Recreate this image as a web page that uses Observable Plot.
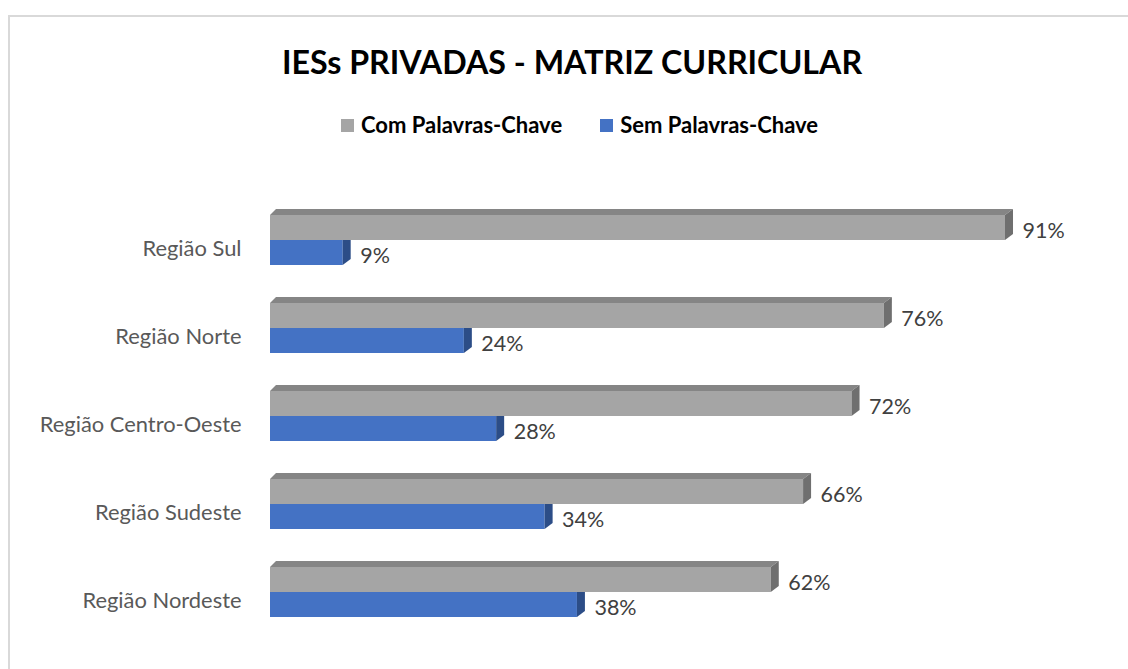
<!DOCTYPE html>
<html>
<head>
<meta charset="utf-8">
<script src="https://cdn.jsdelivr.net/npm/d3@7"></script>
<script src="https://cdn.jsdelivr.net/npm/@observablehq/plot@0.6"></script>
<style>
  html, body { margin: 0; padding: 0; background: #fff; }
  body { width: 1128px; height: 669px; overflow: hidden; position: relative; font-family: Lato, "Noto Sans", sans-serif; }
  #frame { position: absolute; left: 8px; top: 15px; width: 1140px; height: 680px; border: 2px solid #d9d9d9; box-sizing: border-box; }
  #title { position: absolute; left: 8px; width: 1128px; top: 40px; text-align: center; font-weight: 700; font-size: 32.2px; color: #000; line-height: 44px; }
  #legend { position: absolute; left: 341px; top: 112px; display: flex; align-items: center; font-weight: 700; font-size: 22px; color: #000; line-height: 26px; }
  #legend .sw { width: 13px; height: 13px; display: inline-block; margin-right: 7px; }
  #legend .item { display: flex; align-items: center; margin-right: 38px; }
  #chart { position: absolute; left: 0; top: 150px; }
</style>
</head>
<body>
<div id="frame"></div>
<div id="title">IESs PRIVADAS - MATRIZ CURRICULAR</div>
<div id="legend"></div>
<div id="chart"></div>
<script>
const regions = ["Região Sul", "Região Norte", "Região Centro-Oeste", "Região Sudeste", "Região Nordeste"];
const comValues = [91, 76, 72, 66, 62];
const semValues = [9, 24, 28, 34, 38];
const seriesNames = ["Com Palavras-Chave", "Sem Palavras-Chave"];
const seriesColors = ["#a5a5a5", "#4472c4"];

const com = regions.map((r, i) => ({region: r, value: comValues[i]}));
const sem = regions.map((r, i) => ({region: r, value: semValues[i]}));

// legend
const legend = document.getElementById("legend");
seriesNames.forEach((n, i) => {
  const it = document.createElement("div");
  it.className = "item";
  it.innerHTML = `<span class="sw" style="background:${seriesColors[i]}"></span><span>${n}</span>`;
  legend.appendChild(it);
});

const DX = 8, DY = 6;

function grayFaces(index, s) {
  const g = d3.create("svg:g");
  const bw = s.y.bandwidth();
  com.forEach(d => {
    const top = s.y(d.region), mid = top + bw / 2;
    const x0 = s.x(0), xv = s.x(d.value);
    g.append("path")
      .attr("d", `M${x0},${top}L${x0 + 6},${top - DY}L${xv + DX},${top - DY}L${xv},${top}Z`)
      .attr("fill", "#858585");
    g.append("path")
      .attr("d", `M${xv},${top}L${xv + DX},${top - DY}L${xv + DX},${mid - DY}L${xv},${mid}Z`)
      .attr("fill", "#6f6f6f");
  });
  return g.node();
}

function blueFaces(index, s) {
  const g = d3.create("svg:g");
  const bw = s.y.bandwidth();
  sem.forEach(d => {
    const top = s.y(d.region), mid = top + bw / 2, bot = top + bw;
    const xv = s.x(d.value);
    g.append("path")
      .attr("d", `M${xv},${mid}L${xv + DX},${mid - DY}L${xv + DX},${bot - DY}L${xv},${bot}Z`)
      .attr("fill", "#2c4d87");
  });
  return g.node();
}

const chart = Plot.plot({
  width: 1128,
  height: 519,
  marginLeft: 270,
  marginRight: 50.3,
  marginTop: 24.25,
  marginBottom: 12.25,
  style: {fontFamily: "Lato, 'Noto Sans', sans-serif", background: "transparent", overflow: "visible"},
  x: {domain: [0, 100], axis: null},
  y: {domain: regions, padding: 0.4366, axis: null},
  marks: [
    Plot.barX(sem, {x: "value", y: "region", fill: seriesColors[1], insetTop: 25}),
    blueFaces,
    Plot.barX(com, {x: "value", y: "region", fill: seriesColors[0], insetBottom: 25}),
    grayFaces,
    Plot.text(regions, {x: () => 0, y: d => d, text: d => d, textAnchor: "end", dx: -29, dy: 8, fontSize: 21.9, fill: "#595959"}),
    Plot.text(com, {x: "value", y: "region", text: d => d.value + "%", textAnchor: "start", dx: 17, dy: -9.5, fontSize: 21.5, fill: "#404040"}),
    Plot.text(sem, {x: "value", y: "region", text: d => d.value + "%", textAnchor: "start", dx: 17, dy: 15.5, fontSize: 21.5, fill: "#404040"})
  ]
});
document.getElementById("chart").appendChild(chart);
</script>
</body>
</html>
